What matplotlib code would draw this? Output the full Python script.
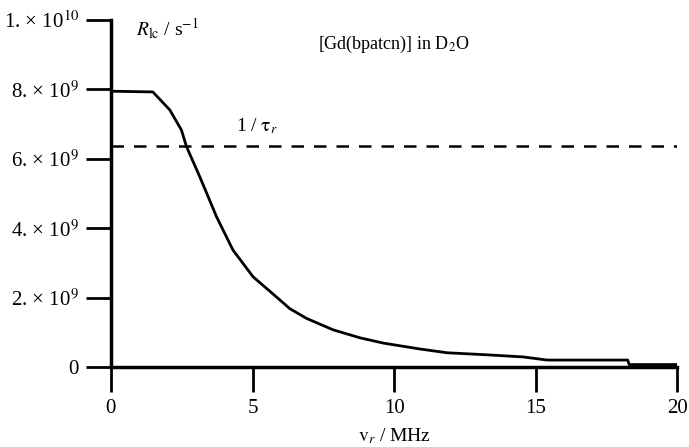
import matplotlib
matplotlib.use('Agg')
import matplotlib.pyplot as plt

# relaxation rate vs rotating-frame frequency
freq = [0.0, 1.48, 2.08, 2.49, 2.67, 3.14, 3.73, 4.31, 5.02, 5.73, 6.32,
        6.91, 7.85, 8.80, 9.61, 10.9, 11.87, 13.3, 14.56, 15.4, 18.25, 18.3, 20.0]
rate = [7.95e9, 7.93e9, 7.41e9, 6.83e9, 6.35e9, 5.48e9, 4.33e9, 3.37e9, 2.60e9,
        2.10e9, 1.68e9, 1.40e9, 1.07e9, 0.84e9, 0.69e9, 0.52e9, 0.41e9, 0.35e9,
        0.29e9, 0.20e9, 0.20e9, 0.07e9, 0.07e9]
inv_tau_r = 6.37e9

yticks = [0, 2e9, 4e9, 6e9, 8e9, 1e10]
ytick_labels = ['0', '2. \u00d7 10$^{9}$', '4. \u00d7 10$^{9}$', '6. \u00d7 10$^{9}$',
                '8. \u00d7 10$^{9}$', '1. \u00d7 10$^{10}$']
xticks = [0, 5, 10, 15, 20]

plt.rcParams['font.family'] = 'Liberation Serif'
plt.rcParams['mathtext.fontset'] = 'stix'

fig = plt.figure(figsize=(6.89, 4.47), dpi=100)
ax = fig.add_axes([0.161, 0.179, 0.822, 0.776])

ax.plot(freq, rate, color='black', lw=2.0)
ax.axhline(inv_tau_r, color='black', lw=1.8, dashes=(5, 4))

ax.set_xlim(0, 20)
ax.set_ylim(0, 1e10)
ax.set_xticks(xticks)
ax.set_xticklabels([str(t) for t in xticks])
ax.set_yticks(yticks)
ax.set_yticklabels(ytick_labels)

for s in ['top', 'right']:
    ax.spines[s].set_visible(False)
ax.spines['left'].set_linewidth(2.5)
ax.spines['bottom'].set_linewidth(2.5)
ax.tick_params(axis='both', direction='out', length=18, width=2.0, labelsize=15, pad=5)

ax.set_xlabel(r'$\mathrm{v}_{r}$ / MHz', fontsize=14, labelpad=6)

ax.text(0.9, 9.75e9, r'$R_{\mathrm{lc}}$ / s$^{-1}$', fontsize=14, va='center')
ax.text(10.0, 9.3e9, r'[Gd(bpatcn)] in D$_2$O', fontsize=13, ha='center', va='center')
ax.text(4.4, 6.95e9, r'1 / $\mathrm{\tau}_r$', fontsize=14, va='center')

plt.savefig('out.png', dpi=100)
